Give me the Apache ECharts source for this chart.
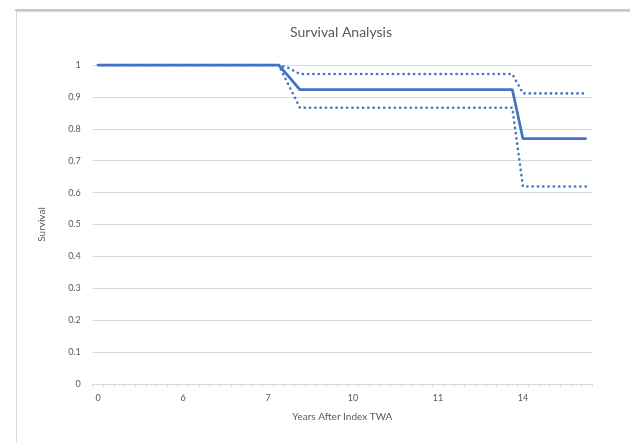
<!DOCTYPE html>
<html>
<head>
<meta charset="utf-8">
<script src="https://cdn.jsdelivr.net/npm/echarts@6/dist/echarts.min.js"></script>
<style>
html,body{margin:0;padding:0;background:#fff;}
#c{width:630px;height:443px;}
</style>
</head>
<body>
<div id="c"></div>
<script>
// Category slots along the x axis (row index of the survival table)
var categoryCount = 47;
// Tick labels shown on the x axis: slot index -> text
var tickLabelIndex = [0, 8, 16, 24, 32, 40];
var tickLabelText = ['0', '6', '7', '10', '11', '14'];

// Survival estimate (solid) and confidence bounds (dotted), one value per slot
var survival = [];
var upperBound = [];
var lowerBound = [];
// Values, in runs of equal value: [count, survival, upper, lower]
var runs = [
  [18, 1.000, 1.000, 1.000],
  [1, 0.962, 0.990, 0.933],
  [21, 0.923, 0.972, 0.866],
  [7, 0.769, 0.911, 0.619]
];
runs.forEach(function (r) {
  for (var k = 0; k < r[0]; k++) {
    survival.push(r[1]);
    upperBound.push(r[2]);
    lowerBound.push(r[3]);
  }
});

var categories = [];
for (var i = 0; i < categoryCount; i++) categories.push(String(i));
var labelMap = {};
tickLabelIndex.forEach(function (idx, j) { labelMap[idx] = tickLabelText[j]; });

var font = 'Lato, "Open Sans", sans-serif';
var blue = '#4472C4';
var chart = echarts.init(document.getElementById('c'), null, {renderer: 'canvas'});
chart.setOption({
  backgroundColor: '#fff',
  animation: false,
  title: {
    text: 'Survival Analysis',
    left: 336, top: 20, textAlign: 'center',
    textStyle: {fontFamily: font, fontSize: 14, fontWeight: 'normal', color: '#595959'}
  },
  graphic: [
    {type: 'rect', shape: {x: 16.5, y: 11.5, width: 640, height: 460},
     style: {fill: 'none', stroke: '#d9d9d9', lineWidth: 1}, silent: true, z: -1},
    {type: 'line', shape: {x1: 15, y1: 10, x2: 630, y2: 10},
     style: {stroke: '#b4b4b4', lineWidth: 1.5}, silent: true, z: -1}
  ],
  grid: {left: 92.7, right: 38, top: 65, bottom: 59, containLabel: false},
  xAxis: {
    type: 'category',
    data: categories,
    boundaryGap: true,
    name: 'Years After Index TWA',
    nameLocation: 'middle',
    nameGap: 28,
    nameTextStyle: {fontFamily: font, fontSize: 10, color: '#595959'},
    axisLine: {lineStyle: {color: '#d9d9d9', width: 1}},
    axisTick: {show: true, interval: 0, length: 3, lineStyle: {color: '#d9d9d9'}},
    axisLabel: {
      interval: 0, margin: 10, fontFamily: font, fontSize: 9, color: '#595959',
      formatter: function (v, idx) { return labelMap[idx] !== undefined ? labelMap[idx] : ''; }
    },
    splitLine: {show: false}
  },
  yAxis: {
    type: 'value',
    min: 0, max: 1, interval: 0.1,
    name: 'Survival',
    nameLocation: 'middle',
    nameGap: 46,
    nameRotate: 90,
    nameTextStyle: {fontFamily: font, fontSize: 10, color: '#595959'},
    axisLine: {show: false},
    axisTick: {show: false},
    axisLabel: {margin: 12, fontFamily: font, fontSize: 9, color: '#595959'},
    splitLine: {lineStyle: {color: '#d9d9d9', width: 1}}
  },
  series: [
    {
      name: 'Upper', type: 'line', data: upperBound, symbol: 'none',
      lineStyle: {color: blue, width: 2.6, type: [0.1, 5.2], cap: 'round'}, z: 2
    },
    {
      name: 'Lower', type: 'line', data: lowerBound, symbol: 'none',
      lineStyle: {color: blue, width: 2.6, type: [0.1, 5.2], cap: 'round'}, z: 2
    },
    {
      name: 'Survival', type: 'line', data: survival, symbol: 'none',
      lineStyle: {color: blue, width: 2.8}, z: 3
    }
  ]
});
</script>
</body>
</html>
